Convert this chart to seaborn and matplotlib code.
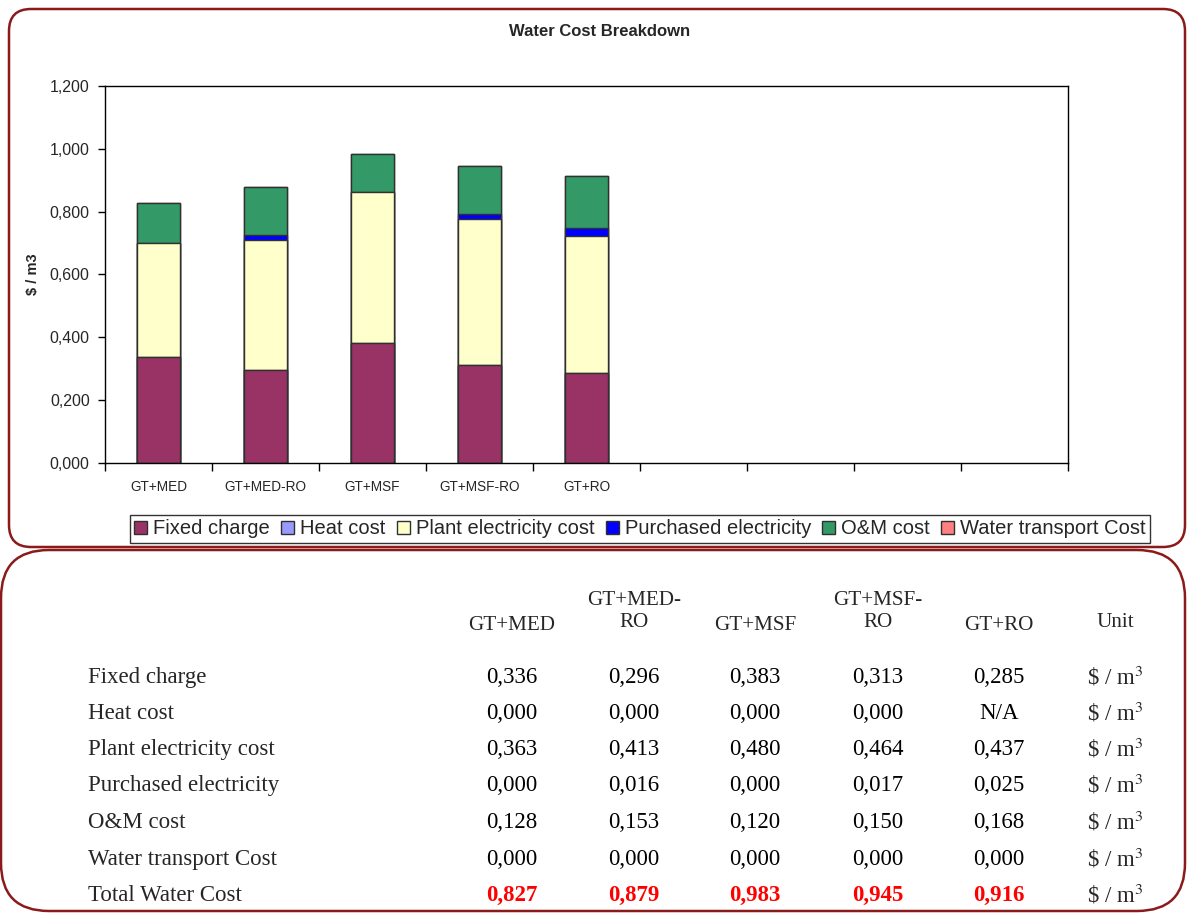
import numpy as np
import pandas as pd
import matplotlib
matplotlib.use("Agg")
import matplotlib.pyplot as plt
import seaborn as sns
from matplotlib.patches import FancyBboxPatch, Patch
from matplotlib.ticker import FuncFormatter

# ---- data ----
systems = ["GT+MED", "GT+MED-RO", "GT+MSF", "GT+MSF-RO", "GT+RO"]
header_labels = ["GT+MED", "GT+MED-\nRO", "GT+MSF", "GT+MSF-\nRO", "GT+RO"]
components = ["Fixed charge", "Heat cost", "Plant electricity cost",
              "Purchased electricity", "O&M cost", "Water transport Cost"]
fixed_charge = [0.336, 0.296, 0.383, 0.313, 0.285]
heat_cost = [0.000, 0.000, 0.000, 0.000, np.nan]          # N/A for GT+RO
plant_electricity = [0.363, 0.413, 0.480, 0.464, 0.437]
purchased_electricity = [0.000, 0.016, 0.000, 0.017, 0.025]
om_cost = [0.128, 0.153, 0.120, 0.150, 0.168]
water_transport = [0.000, 0.000, 0.000, 0.000, 0.000]
total_cost = [0.827, 0.879, 0.983, 0.945, 0.916]
unit_label = r"\$ / m$^{3}$"
y_ticks = [0.0, 0.2, 0.4, 0.6, 0.8, 1.0, 1.2]
palette = ["#993366", "#9999FF", "#FFFFCC", "#0000FF", "#339966", "#FF8080"]

df = pd.DataFrame({
    "Fixed charge": fixed_charge,
    "Heat cost": heat_cost,
    "Plant electricity cost": plant_electricity,
    "Purchased electricity": purchased_electricity,
    "O&M cost": om_cost,
    "Water transport Cost": water_transport,
}, index=systems)

# nine category slots on the axis, only the first five carry data
n_slots = 9
slots = systems + [" " * (i + 1) for i in range(n_slots - len(systems))]

# ---- style ----
sns.set_style("white")
plt.rcParams["font.family"] = ["Liberation Sans", "DejaVu Sans"]
plt.rcParams["mathtext.fontset"] = "stix"

W, H = 1188, 913
fig = plt.figure(figsize=(W / 100, H / 100), dpi=100)
fig.patch.set_facecolor("white")


def fx(x):
    return x / W


def fy(y):
    return 1 - y / H


ax = fig.add_axes([fx(105), fy(463), fx(1068) - fx(105), fy(86) - fy(463)])

# stacked bars: draw cumulative totals from the top layer down
cum = df[components].fillna(0).cumsum(axis=1)
for comp, col in reversed(list(zip(components, palette))):
    sns.barplot(x=systems, y=cum[comp].values, order=slots, color=col,
                saturation=1, width=0.4, edgecolor="#303030", linewidth=1.0,
                errorbar=None, ax=ax)

ax.set_xlim(-0.5, n_slots - 0.5)
ax.set_ylim(0, 1.2)
ax.set_yticks(y_ticks)
ax.yaxis.set_major_formatter(FuncFormatter(lambda v, _: f"{v:.3f}".replace(".", ",")))
ax.tick_params(axis="y", direction="out", length=5, width=1, pad=6,
               labelsize=11.5, left=True, color="black")

ax.set_xticks(np.arange(-0.5, n_slots, 1.0), labels=[""] * (n_slots + 1))
ax.set_xticks(range(len(systems)), labels=systems, minor=True)
ax.tick_params(axis="x", which="major", direction="out", length=6, width=1,
               bottom=True, color="black")
ax.tick_params(axis="x", which="minor", length=0, pad=12, labelsize=9.8)
ax.set_xlabel("")
ax.set_ylabel("$ / m3", fontsize=10.5, fontweight="bold")
ax.yaxis.set_label_coords(-0.067, 0.5)
for sp in ax.spines.values():
    sp.set_visible(True)
    sp.set_color("black")
    sp.set_linewidth(1.0)

fig.text(fx(600), fy(32), "Water Cost Breakdown", ha="center", va="center",
         fontsize=12, fontweight="bold")

handles = [Patch(facecolor=c, edgecolor="#303030", linewidth=1.0, label=l)
           for c, l in zip(palette, components)]
leg = fig.legend(handles=handles, loc="center", bbox_to_anchor=(fx(640), fy(529)),
                 ncol=6, frameon=True, fancybox=False, edgecolor="black",
                 fontsize=14.5, handlelength=0.65, handleheight=0.65,
                 handletextpad=0.3, columnspacing=0.55, borderpad=0.2,
                 borderaxespad=0)
leg.get_frame().set_linewidth(1.0)

# ---- panel borders ----
border = "#8B1A1A"
top_panel = FancyBboxPatch((0.09, (H - 547) / 100), 11.76, 5.38,
                           boxstyle="round,pad=0,rounding_size=0.22",
                           transform=fig.dpi_scale_trans, facecolor="none",
                           edgecolor=border, linewidth=1.8, zorder=5)
bottom_panel = FancyBboxPatch((0.01, 0.02), 11.84, (913 - 550) / 100 - 0.02,
                              boxstyle="round,pad=0,rounding_size=0.48",
                              transform=fig.dpi_scale_trans, facecolor="none",
                              edgecolor=border, linewidth=1.8, zorder=5)
fig.patches.extend([top_panel, bottom_panel])

# ---- value table ----
serif = ["Liberation Serif", "DejaVu Serif"]
col_x = [512, 634, 755, 878, 999]
unit_x = 1115
row_y = [677, 713, 749, 785, 822, 859, 895]
tfs = 16.5

for x, lab in zip(col_x, header_labels):
    fig.text(fx(x), fy(625 if "\n" not in lab else 611.5), lab, ha="center",
             va="center", family=serif, fontsize=15.2, linespacing=1.25,
             multialignment="center")
fig.text(fx(unit_x), fy(622), "Unit", ha="center", va="center",
         family=serif, fontsize=15.2)


def fmt(v):
    return "N/A" if pd.isna(v) else f"{v:.3f}".replace(".", ",")


rows = [(c, df[c].tolist()) for c in components] + [("Total Water Cost", total_cost)]
for i, (name, vals) in enumerate(rows):
    y = fy(row_y[i])
    is_total = name == "Total Water Cost"
    fig.text(fx(88), y, name, ha="left", va="center", family=serif, fontsize=tfs)
    for x, v in zip(col_x, vals):
        fig.text(fx(x), y, fmt(v), ha="center", va="center", family=serif,
                 fontsize=tfs, color="#FF0000" if is_total else "black",
                 fontweight="bold" if is_total else "normal")
    fig.text(fx(unit_x), y, unit_label, ha="center", va="center",
             family=serif, fontsize=tfs)

fig.savefig("out.png", dpi=100, facecolor="white")
